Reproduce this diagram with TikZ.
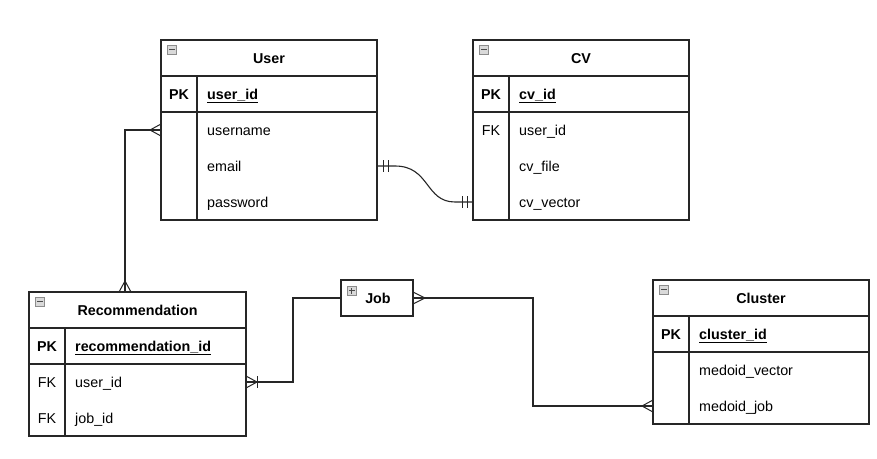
\documentclass[tikz,border=0pt]{standalone}
\usepackage{fontspec}
\setmainfont{Liberation Sans}
\begin{document}
\begin{tikzpicture}[x=1pt,y=-1pt,
  box/.style={draw=black!85, line width=1.1pt, anchor=north west, inner sep=0pt, outer sep=0pt},
  sep/.style={draw=black!85, line width=1.1pt},
  hdr/.style={font=\fontsize{14.3}{16}\selectfont\bfseries, anchor=base, inner sep=0pt},
  fld/.style={font=\fontsize{14.3}{16}\selectfont, anchor=base west, inner sep=0pt},
  pkf/.style={font=\fontsize{14.3}{16}\selectfont\bfseries, anchor=base west, inner sep=0pt},
  keyb/.style={font=\fontsize{14.3}{16}\selectfont\bfseries, anchor=base, inner sep=0pt},
  keyr/.style={font=\fontsize{14.3}{16}\selectfont, anchor=base, inner sep=0pt},
  icon/.style={draw=black!45, fill=black!15, line width=0.7pt, minimum size=9.5pt, inner sep=0pt, outer sep=0pt, anchor=north west},
  iconmark/.style={draw=black!70, line width=1.4pt},
  conn/.style={draw=black!85, line width=1.1pt},
  crow/.style={draw=black!85, line width=1pt}]

\useasboundingbox (0,0) rectangle (877,458);
\fill[white] (0,0) rectangle (877,458);

% ---------------- User ----------------
\node[box, minimum width=216pt, minimum height=180pt] (user) at (161,40) {};
\draw[sep] (161,76) -- (377,76);
\draw[sep] (161,112) -- (377,112);
\draw[sep] (197,76) -- (197,220);
\node[icon] (uic) at (167,45) {};
\draw[iconmark] ([xshift=2pt]uic.west) -- ([xshift=-2pt]uic.east);
\node[hdr] (uhdr) at (269,63) {User};
\node[keyb] (upk) at (179,99) {PK};
\node[pkf] (uid) at (207,99) {\underline{user\_id}};
\node[fld] (uname) at (207,135) {username};
\node[fld] (uemail) at (207,171) {email};
\node[fld] (upass) at (207,207) {password};

% ---------------- CV ----------------
\node[box, minimum width=216pt, minimum height=180pt] (cv) at (473,40) {};
\draw[sep] (473,76) -- (689,76);
\draw[sep] (473,112) -- (689,112);
\draw[sep] (509,76) -- (509,220);
\node[icon] (cic) at (479,45) {};
\draw[iconmark] ([xshift=2pt]cic.west) -- ([xshift=-2pt]cic.east);
\node[hdr] (chdr) at (581,63) {CV};
\node[keyb] (cpk) at (491,99) {PK};
\node[keyr] (cfk) at (491,135) {FK};
\node[pkf] (cid) at (519,99) {\underline{cv\_id}};
\node[fld] (cuid) at (519,135) {user\_id};
\node[fld] (cfile) at (519,171) {cv\_file};
\node[fld] (cvec) at (519,207) {cv\_vector};

% ---------------- Recommendation ----------------
\node[box, minimum width=217pt, minimum height=144pt] (rec) at (29,292) {};
\draw[sep] (29,328) -- (246,328);
\draw[sep] (29,364) -- (246,364);
\draw[sep] (65,328) -- (65,436);
\node[icon] (ric) at (35,297) {};
\draw[iconmark] ([xshift=2pt]ric.west) -- ([xshift=-2pt]ric.east);
\node[hdr] (rhdr) at (137.5,315) {Recommendation};
\node[keyb] (rpk) at (47,351) {PK};
\node[keyr] (rfk1) at (47,387) {FK};
\node[keyr] (rfk2) at (47,423) {FK};
\node[pkf] (rid) at (75,351) {\underline{recommendation\_id}};
\node[fld] (ruid) at (75,387) {user\_id};
\node[fld] (rjid) at (75,423) {job\_id};

% ---------------- Cluster ----------------
\node[box, minimum width=216pt, minimum height=144pt] (clu) at (653,280) {};
\draw[sep] (653,316) -- (869,316);
\draw[sep] (653,352) -- (869,352);
\draw[sep] (689,316) -- (689,424);
\node[icon] (kic) at (659,285) {};
\draw[iconmark] ([xshift=2pt]kic.west) -- ([xshift=-2pt]kic.east);
\node[hdr] (khdr) at (761,303) {Cluster};
\node[keyb] (kpk) at (671,339) {PK};
\node[pkf] (kid) at (699,339) {\underline{cluster\_id}};
\node[fld] (kvec) at (699,375) {medoid\_vector};
\node[fld] (kjob) at (699,411) {medoid\_job};

% ---------------- Job ----------------
\node[box, minimum width=72pt, minimum height=36pt] (job) at (341,280) {};
\node[icon] (jic) at (347,286) {};
\draw[iconmark] ([xshift=2pt]jic.west) -- ([xshift=-2pt]jic.east);
\draw[iconmark] ([yshift=-2pt]jic.north) -- ([yshift=2pt]jic.south);
\node[hdr] (jhdr) at (378,303) {Job};

% ---------------- connector points ----------------
\coordinate (uL) at (161,130);
\coordinate (rT) at (125,292);
\coordinate (uR) at (377,166);
\coordinate (cL) at (473,202);
\coordinate (rR) at (246,382);
\coordinate (jL) at (341,298);
\coordinate (jR) at (413,298);
\coordinate (kL) at (653,406);

% User -- Recommendation (many to many)
\draw[conn] (uL) -- (uL -| rT) -- (rT);
\draw[crow] ([xshift=-11pt]uL) -- ([yshift=6pt]uL) ([xshift=-11pt]uL) -- ([yshift=-6pt]uL);
\draw[crow] ([yshift=11pt]rT) -- ([xshift=-6pt]rT) ([yshift=11pt]rT) -- ([xshift=6pt]rT);

% User -- CV (one and only one)
\draw[conn] (uR) -- ++(18,0) .. controls (430,166) and (425,202) .. (455,202) -- (cL);
\draw[crow] ([xshift=6pt,yshift=6pt]uR) -- ([xshift=6pt,yshift=-6pt]uR);
\draw[crow] ([xshift=11pt,yshift=6pt]uR) -- ([xshift=11pt,yshift=-6pt]uR);
\draw[crow] ([xshift=-6pt,yshift=6pt]cL) -- ([xshift=-6pt,yshift=-6pt]cL);
\draw[crow] ([xshift=-11pt,yshift=6pt]cL) -- ([xshift=-11pt,yshift=-6pt]cL);

% Recommendation -- Job (one or many)
\draw[conn] (rR) -- (293,382) -- (293,298) -- (jL);
\draw[crow] ([xshift=11pt]rR) -- ([yshift=6pt]rR) ([xshift=11pt]rR) -- ([yshift=-6pt]rR);
\draw[crow] ([xshift=11pt,yshift=6pt]rR) -- ([xshift=11pt,yshift=-6pt]rR);

% Job -- Cluster (many to many)
\draw[conn] (jR) -- (533,298) -- (533,406) -- (kL);
\draw[crow] ([xshift=12pt]jR) -- ([yshift=6pt]jR) ([xshift=12pt]jR) -- ([yshift=-6pt]jR);
\draw[crow] ([xshift=-11pt]kL) -- ([yshift=6pt]kL) ([xshift=-11pt]kL) -- ([yshift=-6pt]kL);
\end{tikzpicture}
\end{document}
